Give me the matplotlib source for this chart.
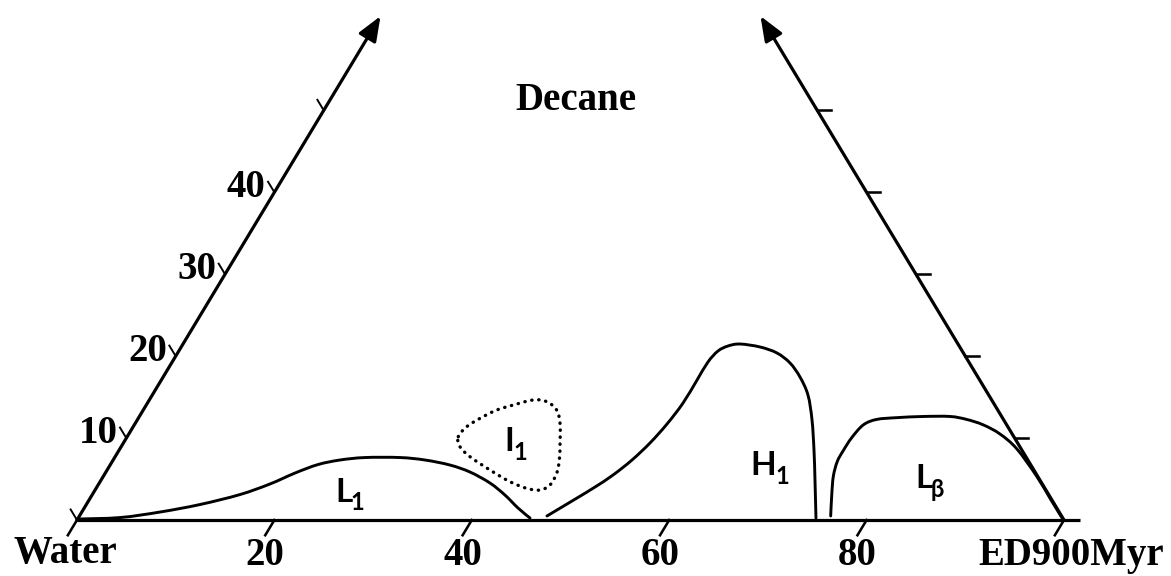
import numpy as np
import matplotlib
matplotlib.use("Agg")
import matplotlib.pyplot as plt
from matplotlib.path import Path
from matplotlib.patches import PathPatch

# ---------------- data ----------------
# ternary geometry (base in %, Water = 0, ED900Myr = 100)
H = 0.83                 # vertical scale of the drawn triangle per % decane
axis_extent = 61.5       # % decane reached by the two drawn side axes

base_ticks = [0, 20, 40, 60, 80, 100]
base_labels = ["", "20", "40", "60", "80", ""]
decane_ticks = [10, 20, 30, 40, 50]
decane_labels = ["10", "20", "30", "40", ""]
vertex_labels = ["Water", "ED900Myr", "Decane"]

# phase boundaries: x = position along base (%), y = height (same units)
L1_x = [0.00, 4.36, 8.41, 12.46, 16.51, 19.55, 22.09, 24.42, 26.65, 29.18,
        32.73, 35.26, 37.79, 39.82, 41.84, 43.36, 44.68, 45.90]
L1_y = [0.10, 0.25, 0.81, 1.57, 2.58, 3.65, 4.76, 5.62, 6.08, 6.33,
        6.33, 6.08, 5.57, 4.86, 3.75, 2.53, 1.22, 0.20]

I1_x = [38.63, 39.48, 40.83, 42.52, 44.20, 46.23, 47.59, 48.60, 48.94, 48.94,
        48.87, 48.60, 47.92, 46.91, 45.56, 43.87, 41.84, 39.82, 38.80]
I1_y = [8.44, 9.45, 10.30, 11.14, 11.65, 12.16, 11.99, 11.14, 9.80, 7.77,
        6.08, 4.73, 3.55, 3.04, 3.21, 3.88, 5.07, 6.41, 7.43]

H1_x = [47.62, 49.14, 50.66, 52.48, 54.31, 56.23, 58.05, 59.78, 61.40, 62.82,
        63.93, 64.94, 65.96, 67.17, 69.20, 70.92, 72.24, 73.25, 74.06, 74.47,
        74.67, 74.77, 74.87]
H1_y = [0.41, 1.32, 2.23, 3.34, 4.56, 6.08, 7.80, 9.73, 11.85, 14.18,
        16.01, 17.12, 17.63, 17.83, 17.53, 16.92, 15.91, 14.49, 12.66, 10.13,
        7.09, 4.05, 0.20]

Lb_x = [76.36, 76.47, 76.63, 77.03, 77.64, 78.49, 79.67, 81.02, 83.05, 85.74,
        88.45, 90.14, 91.82, 93.52, 95.21, 97.23, 98.58, 99.93]
Lb_y = [0.41, 2.58, 4.44, 5.93, 7.04, 8.34, 9.64, 10.19, 10.37, 10.49,
        10.49, 10.19, 9.64, 8.71, 7.22, 4.44, 2.21, 0.00]

phase_names = ["L", "I", "H", "L"]
phase_subs = ["1", "1", "1", "\u03b2"]

# ---------------- figure ----------------
fig = plt.figure(figsize=(11.71, 5.76), dpi=100)
ax = fig.add_axes([0, 0, 1, 1])
ax.set_xlim(-7.80, 110.84)
ax.set_ylim(-5.67, 52.68)
ax.axis("off")

K = "black"
LW_AX = 2.3
LW_C = 2.1
serif = dict(family="Liberation Serif", weight="bold", color=K)
sans = dict(family=["Lato", "DejaVu Sans"], weight="bold", color=K)


def left_pt(d):
    return np.array([d / 2.0, d * H])


def right_pt(d):
    return np.array([100 - d / 2.0, d * H])


def smooth_path(xs, ys, closed=False):
    """Smooth path through the given points (Catmull-Rom as cubic Beziers)."""
    pts = np.column_stack([xs, ys]).astype(float)
    n = len(pts)
    verts = [pts[0]]
    codes = [Path.MOVETO]
    nseg = n if closed else n - 1
    for i in range(nseg):
        if closed:
            p0, p1, p2, p3 = pts[(i - 1) % n], pts[i], pts[(i + 1) % n], pts[(i + 2) % n]
        else:
            p0 = pts[i - 1] if i > 0 else pts[i]
            p1 = pts[i]
            p2 = pts[i + 1]
            p3 = pts[i + 2] if i + 2 < n else pts[i + 1]
        c1 = p1 + (p2 - p0) / 6.0
        c2 = p2 - (p3 - p1) / 6.0
        verts += [c1, c2, p2]
        codes += [Path.CURVE4] * 3
    return Path(verts, codes)


# base line
ax.plot([0, 101.6], [0, 0], color=K, lw=LW_AX, solid_capstyle="butt")

# side axes with arrows
arrow = dict(arrowstyle="-|>,head_length=0.75,head_width=0.3", lw=LW_AX,
             color=K, shrinkA=0, shrinkB=0, mutation_scale=20)
ax.annotate("", xy=tuple(left_pt(axis_extent)), xytext=tuple(left_pt(0)),
            arrowprops=arrow)
ax.annotate("", xy=tuple(right_pt(axis_extent)), xytext=tuple(right_pt(0)),
            arrowprops=arrow)

# direction vectors
up_left = np.array([-0.5, H]); up_left /= np.hypot(*up_left)
down_left = np.array([-0.5, -H]); down_left /= np.hypot(*down_left)

# base ticks and labels
for t, lab in zip(base_ticks, base_labels):
    p0 = np.array([t, 0.0])
    p1 = p0 + 1.8 * down_left
    ax.plot([p0[0], p1[0]], [p0[1], p1[1]], color=K, lw=LW_AX * 0.8)
    if lab:
        ax.text(p1[0], -4.56, lab, ha="center", va="baseline", fontsize=28, **serif)

# left (decane) axis ticks
for t, lab in zip([0] + decane_ticks, [""] + decane_labels):
    p0 = left_pt(t)
    p1 = p0 + 1.25 * up_left
    ax.plot([p0[0], p1[0]], [p0[1], p1[1]], color=K, lw=LW_AX * 0.6)
    if lab:
        ax.text(p0[0] - 0.9, p0[1] - 0.5, lab, ha="right", va="baseline",
                fontsize=28, **serif)

# right axis ticks (horizontal)
for t in decane_ticks:
    p0 = right_pt(t)
    ax.plot([p0[0], p0[0] + 1.4], [p0[1], p0[1]], color=K, lw=LW_AX * 0.8)

# vertex labels
ax.text(-1.2, -4.36, vertex_labels[0], ha="center", va="baseline", fontsize=28, **serif)
ax.text(100.7, -4.56, vertex_labels[1], ha="center", va="baseline", fontsize=28, **serif)
ax.text(50.55, 41.54, vertex_labels[2], ha="center", va="baseline", fontsize=28, **serif)

# phase boundaries
for xs, ys in [(L1_x, L1_y), (H1_x, H1_y), (Lb_x, Lb_y)]:
    ax.add_patch(PathPatch(smooth_path(xs, ys), fill=False, edgecolor=K,
                           lw=LW_C, capstyle="round", joinstyle="round"))
ax.add_patch(PathPatch(smooth_path(I1_x, I1_y, closed=True), fill=False,
                       edgecolor=K, lw=2.4, linestyle=(0, (0.1, 2.0)),
                       capstyle="round"))

# phase labels (main letter + subscript)
main_pos = [(26.14, 1.82), (43.26, 6.99), (68.19, 4.56), (84.90, 3.24)]
sub_pos = [(27.76, 1.01), (44.27, 6.08), (70.72, 3.65), (86.52, 2.33)]
for name, sub, mp, sp in zip(phase_names, phase_subs, main_pos, sub_pos):
    ax.text(mp[0], mp[1], name, ha="left", va="baseline", fontsize=24, **sans)
    ax.text(sp[0], sp[1], sub, ha="left", va="baseline", fontsize=17, **sans)

fig.savefig("out.png", dpi=100)
